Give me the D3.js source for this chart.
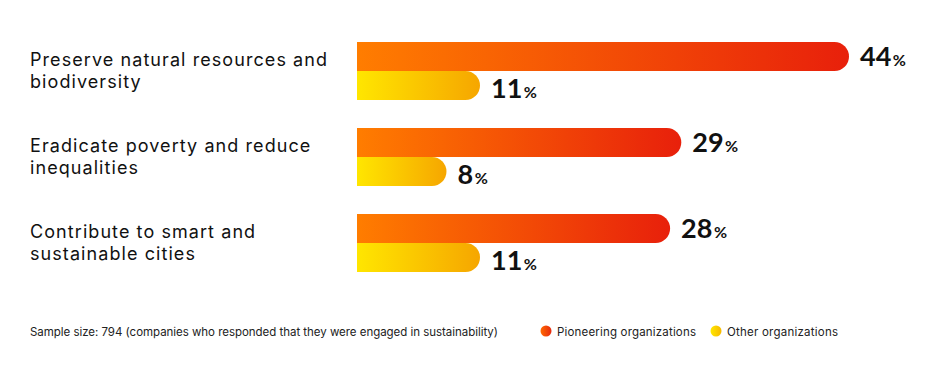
<!DOCTYPE html>
<html><head><meta charset="utf-8">
<script src="https://cdn.jsdelivr.net/npm/d3@7"></script>
<style>body{margin:0;background:#fff}svg{display:block}</style>
</head><body>
<script>
const categories = [
  ["Preserve natural resources and", "biodiversity"],
  ["Eradicate poverty and reduce", "inequalities"],
  ["Contribute to smart and", "sustainable cities"]
];
const pioneering = [44, 29, 28];
const others = [11, 8, 11];
const seriesNames = ["Pioneering organizations", "Other organizations"];
const note = "Sample size: 794 (companies who responded that they were engaged in sustainability)";

const W = 950, H = 366;
const svg = d3.select("body").append("svg").attr("width", W).attr("height", H);
const defs = svg.append("defs");
function grad(id, c0, c1) {
  const g = defs.append("linearGradient").attr("id", id).attr("x1", "0%").attr("x2", "100%").attr("y1", "0%").attr("y2", "0%");
  g.append("stop").attr("offset", "0%").attr("stop-color", c0);
  g.append("stop").attr("offset", "100%").attr("stop-color", c1);
}
grad("gP", "#FF7D00", "#E8200B");
grad("gO", "#FFE600", "#F6A600");
grad("gPc", "#FF6A00", "#E62A10");
grad("gOc", "#FFE800", "#F7B800");

const TXT = "Inter, 'Noto Sans', sans-serif";
const NUM = "Lato, sans-serif";

function fit(sel, target) {
  const node = sel.node();
  const w = node.getComputedTextLength();
  const n = node.textContent.length;
  sel.attr("letter-spacing", ((target - w) / (n - 1)).toFixed(3));
}

const x = d3.scaleLinear().domain([0, 44]).range([357, 849]);
const y = d3.scaleBand().domain(d3.range(categories.length)).range([42, 300]).paddingInner(0);
const bh = 29;

function barPath(x0, x1, yt, h) {
  const r = h / 2;
  return `M${x0},${yt}H${x1 - r}A${r},${r} 0 0 1 ${x1 - r},${yt + h}H${x0}Z`;
}

const probe = svg.append("text").attr("font-family", TXT).attr("font-size", 18).text(categories[0][0]);
fit(probe, 297);
const catSpacing = +probe.attr("letter-spacing");
probe.remove();

const g = svg.append("g");
categories.forEach((cat, i) => {
  const y0 = y(i);
  cat.forEach((line, k) => {
    g.append("text").attr("x", 30).attr("y", y0 + 24 + k * 22)
      .attr("font-family", TXT).attr("font-size", 18).attr("fill", "#111")
      .attr("letter-spacing", catSpacing).text(line);
  });

  [[pioneering[i], "gP", 0, 24], [others[i], "gO", 1, 27]].forEach(([v, gid, k, off]) => {
    const yt = y0 + k * bh;
    g.append("path").attr("d", barPath(x(0), x(v), yt, bh)).attr("fill", `url(#${gid})`);
    const lt = g.append("text").attr("x", x(v) + 11).attr("y", yt + off)
      .attr("font-family", NUM).attr("font-weight", 700).attr("fill", "#111");
    lt.append("tspan").attr("font-size", 27).text(v);
    lt.append("tspan").attr("font-size", 16).attr("dx", 1.5).text("%");
  });
});

const noteT = svg.append("text").attr("x", 30).attr("y", 336).attr("font-family", TXT)
  .attr("font-size", 11.5).attr("fill", "#222").text(note);
fit(noteT, 468);
const legX = [546, 716];
const legW = [139, 111];
seriesNames.forEach((n, i) => {
  svg.append("circle").attr("cx", legX[i]).attr("cy", 331).attr("r", 5.5)
    .attr("fill", `url(#${i === 0 ? "gPc" : "gOc"})`);
  const t = svg.append("text").attr("x", legX[i] + 11).attr("y", 336).attr("font-family", TXT)
    .attr("font-size", 11.5).attr("fill", "#222").text(n);
  fit(t, legW[i]);
});
</script>
</body></html>
